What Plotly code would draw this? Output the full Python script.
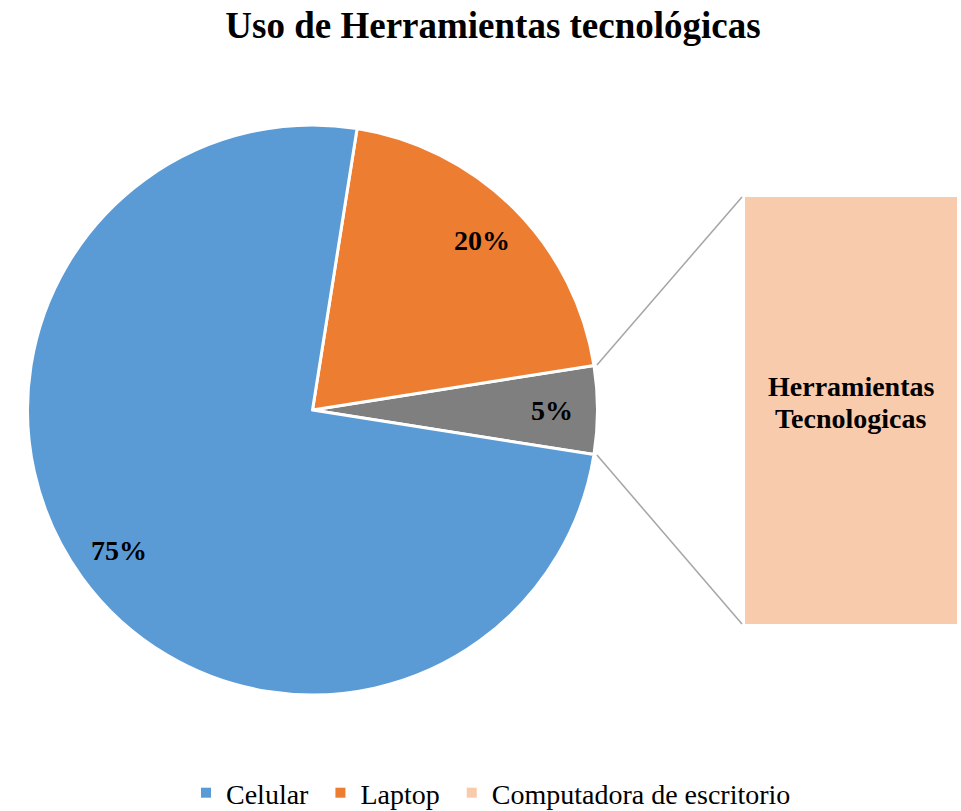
import math
import plotly.graph_objects as go

# ---- data ----
title_text = "Uso de Herramientas tecnológicas"
pie_labels = ["Otro", "Laptop", "Celular"]
pie_values = [5, 20, 75]
pie_colors = ["#7F7F7F", "#ED7D31", "#5B9BD5"]
bar_category = ["Computadora de escritorio"]
bar_values = [5]
bar_text_lines = ["Herramientas", "Tecnologicas"]
legend_labels = ["Celular", "Laptop", "Computadora de escritorio"]
legend_colors = ["#5B9BD5", "#ED7D31", "#F8CBAD"]

W, H = 961, 811
B = 60                       # bottom margin reserved for the legend
PH = H - B                   # plot-area height
FONT = "Liberation Serif"

def fx(px):  # page px -> paper x
    return px / W

def fy(py):  # page px -> paper y (plot area)
    return 1 - py / PH

def cy_(py):  # page px -> container y
    return 1 - py / H

# pie geometry (pixels)
cx, cy, R = 312.5, 410.0, 285.0
pie_dom_x = [fx(cx - R), fx(cx + R)]
pie_dom_y = [fy(cy + R), fy(cy - R)]

# bar geometry (pixels)
bx0, bx1, by0, by1 = 745, 957, 197, 624
bar_dom_x = [fx(bx0), fx(bx1)]
bar_dom_y = [fy(by1), fy(by0)]

total = sum(pie_values)
half = pie_values[0] / total * 360 / 2  # half angle of 'other' slice
rotation = 90 - half

fig = go.Figure()
fig.add_trace(go.Pie(
    labels=pie_labels, values=pie_values, sort=False,
    direction="counterclockwise", rotation=rotation,
    marker=dict(colors=pie_colors, line=dict(color="white", width=3)),
    textinfo="none", hoverinfo="label+percent", showlegend=False,
    domain=dict(x=pie_dom_x, y=pie_dom_y),
))

fig.add_trace(go.Bar(
    x=[0], y=bar_values, width=1, name=bar_category[0],
    marker=dict(color=legend_colors[2], line=dict(width=0)),
    showlegend=False, hoverinfo="y",
))

for i, (lab, col) in enumerate(zip(legend_labels, legend_colors)):
    pad = "\u00a0" if i < len(legend_labels) - 1 else ""
    fig.add_trace(go.Scatter(
        x=[None], y=[None], mode="markers", name=lab + pad,
        marker=dict(symbol="square", size=10, color=col),
    ))

annotations = []
# percentage labels on slices
cum = 0.0
for v in pie_values:
    mid = cum + v / 2
    ang = math.radians(-half + mid / total * 360)  # math angle, ccw from east
    r = 0.84 * R
    px = cx + r * math.cos(ang)
    py = cy - r * math.sin(ang)
    annotations.append(dict(
        x=fx(px), y=fy(py), xref="paper", yref="paper",
        text="<b>%d%%</b>" % round(v / total * 100), showarrow=False,
        font=dict(family=FONT, size=28, color="black"),
        xanchor="center", yanchor="middle",
    ))
    cum += v

# bar label (two lines, tight spacing)
for line, shift in zip(bar_text_lines, [24, -8]):
    annotations.append(dict(
        x=0, y=bar_values[0] / 2, xref="x", yref="y", yshift=shift,
        text="<b>" + line + "</b>", showarrow=False,
        font=dict(family=FONT, size=28, color="black"),
        xanchor="center", yanchor="middle",
    ))

# connector lines
shapes = []
for sgn, by in [(1, by0), (-1, by1)]:
    a = math.radians(sgn * half)
    px = cx + (R + 3) * math.cos(a)
    py = cy - (R + 3) * math.sin(a)
    shapes.append(dict(
        type="line", xref="paper", yref="paper",
        x0=fx(px), y0=fy(py), x1=fx(bx0 - 3), y1=fy(by),
        line=dict(color="#A5A5A5", width=1.5),
    ))

fig.update_layout(
    width=W, height=H,
    margin=dict(l=0, r=0, t=0, b=B),
    paper_bgcolor="white", plot_bgcolor="white",
    title=dict(text="<b>" + title_text + "</b>", x=fx(493), xanchor="center",
               y=cy_(12), yanchor="top", yref="container", pad=dict(t=0),
               font=dict(family=FONT, size=37, color="black")),
    xaxis=dict(domain=bar_dom_x, range=[-0.5, 0.5], visible=False, fixedrange=True),
    yaxis=dict(domain=bar_dom_y, range=[0, bar_values[0]], visible=False, fixedrange=True),
    legend=dict(orientation="h", xref="container", yref="container",
                x=fx(186), xanchor="left", y=cy_(793), yanchor="middle",
                font=dict(family=FONT, size=28, color="black"),
                itemclick=False, itemdoubleclick=False, bgcolor="rgba(0,0,0,0)"),
    annotations=annotations, shapes=shapes,
)

fig.write_html("out.html",
               config={"displayModeBar": False},
               post_script="document.body.style.margin='0px';")
